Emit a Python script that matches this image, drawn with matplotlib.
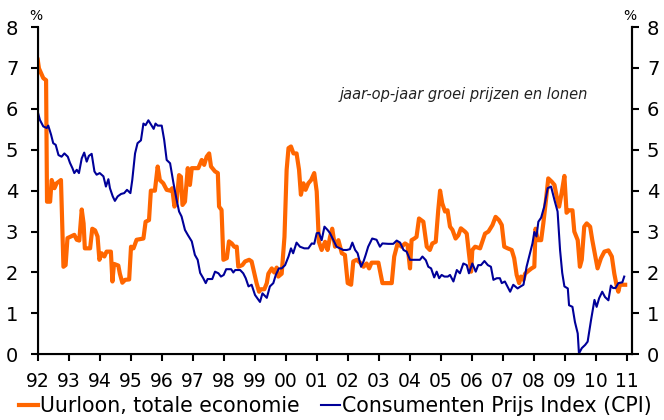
import matplotlib
matplotlib.use("Agg")
from matplotlib import pyplot as plt

loon_jaar = [1992.00, 1992.04, 1992.18, 1992.27, 1992.30, 1992.40, 1992.45, 1992.54, 1992.61, 1992.75,
             1992.83, 1992.90, 1992.96, 1993.07, 1993.18, 1993.26, 1993.34, 1993.42, 1993.48, 1993.52,
             1993.69, 1993.76, 1993.85, 1993.93, 1993.99, 1994.06, 1994.15, 1994.22, 1994.36, 1994.41,
             1994.46, 1994.60, 1994.65, 1994.73, 1994.82, 1994.95, 1995.01, 1995.09, 1995.19, 1995.41,
             1995.48, 1995.59, 1995.65, 1995.78, 1995.87, 1995.94, 1996.05, 1996.16, 1996.27, 1996.34,
             1996.41, 1996.48, 1996.56, 1996.62, 1996.67, 1996.75, 1996.84, 1996.91, 1996.97, 1997.18,
             1997.29, 1997.37, 1997.45, 1997.53, 1997.59, 1997.72, 1997.81, 1997.85, 1997.93, 1997.99,
             1998.10, 1998.17, 1998.26, 1998.34, 1998.42, 1998.47, 1998.60, 1998.69, 1998.82, 1998.90,
             1998.99, 1999.06, 1999.14, 1999.20, 1999.31, 1999.39, 1999.44, 1999.55, 1999.63, 1999.71,
             1999.76, 1999.87, 1999.96, 2000.03, 2000.09, 2000.17, 2000.25, 2000.35, 2000.43, 2000.49,
             2000.57, 2000.64, 2000.73, 2000.82, 2000.92, 2001.00, 2001.07, 2001.16, 2001.27, 2001.35,
             2001.43, 2001.50, 2001.59, 2001.70, 2001.81, 2001.91, 2002.00, 2002.11, 2002.18, 2002.29,
             2002.40, 2002.51, 2002.61, 2002.69, 2002.77, 2002.99, 2003.12, 2003.42, 2003.50, 2003.61,
             2003.74, 2003.85, 2003.93, 2004.01, 2004.06, 2004.15, 2004.22, 2004.30, 2004.44, 2004.55,
             2004.65, 2004.73, 2004.84, 2004.92, 2004.98, 2005.05, 2005.14, 2005.22, 2005.30, 2005.38,
             2005.48, 2005.57, 2005.65, 2005.78, 2005.84, 2005.91, 2005.98, 2006.02, 2006.11, 2006.27,
             2006.34, 2006.43, 2006.54, 2006.67, 2006.77, 2006.88, 2006.97, 2007.05, 2007.16, 2007.29,
             2007.37, 2007.45, 2007.53, 2007.59, 2007.67, 2007.72, 2007.83, 2007.93, 2008.02, 2008.06,
             2008.13, 2008.24, 2008.31, 2008.39, 2008.47, 2008.58, 2008.67, 2008.74, 2008.82, 2008.90,
             2008.99, 2009.06, 2009.14, 2009.25, 2009.31, 2009.42, 2009.49, 2009.55, 2009.63, 2009.71,
             2009.82, 2009.89, 2009.98, 2010.06, 2010.17, 2010.28, 2010.41, 2010.52, 2010.60, 2010.68,
             2010.73, 2010.78, 2010.95]
loon_waarde = [7.20, 6.99, 6.75, 6.70, 3.73, 3.73, 4.26, 4.06, 4.18, 4.26,
               2.14, 2.18, 2.84, 2.88, 2.92, 2.80, 2.78, 3.54, 3.20, 2.59,
               2.59, 3.07, 3.03, 2.88, 2.31, 2.47, 2.39, 2.51, 2.51, 1.78,
               2.21, 2.17, 1.97, 1.75, 1.82, 1.83, 2.63, 2.59, 2.80, 2.83,
               3.24, 3.28, 4.00, 4.00, 4.59, 4.26, 4.18, 4.02, 4.00, 4.06,
               3.61, 3.73, 4.38, 4.34, 3.65, 3.73, 4.55, 4.14, 4.55, 4.55,
               4.75, 4.63, 4.83, 4.91, 4.59, 4.47, 4.43, 3.61, 3.53, 2.31,
               2.35, 2.76, 2.71, 2.63, 2.63, 2.14, 2.18, 2.27, 2.31, 2.27,
               1.97, 1.74, 1.53, 1.59, 1.59, 1.74, 1.97, 2.10, 2.00, 2.12,
               1.90, 1.97, 2.87, 4.51, 5.04, 5.08, 4.91, 4.91, 4.51, 3.90,
               4.18, 4.02, 4.18, 4.26, 4.43, 3.98, 2.75, 2.55, 2.75, 2.55,
               2.87, 3.07, 2.63, 2.79, 2.47, 2.43, 1.74, 1.70, 2.27, 2.31,
               2.24, 2.14, 2.22, 2.10, 2.24, 2.24, 1.74, 1.74, 2.39, 2.71,
               2.63, 2.71, 2.67, 2.10, 2.79, 2.83, 2.87, 3.32, 3.24, 2.63,
               2.55, 2.71, 2.75, 3.52, 4.00, 3.69, 3.49, 3.52, 3.12, 3.04,
               2.83, 2.91, 3.08, 3.00, 2.95, 2.47, 2.02, 2.55, 2.63, 2.59,
               2.75, 2.95, 3.00, 3.16, 3.36, 3.28, 3.16, 2.63, 2.59, 2.55,
               2.35, 1.94, 1.74, 1.90, 1.82, 1.97, 2.04, 2.10, 2.14, 3.07,
               2.79, 2.79, 3.20, 3.73, 4.30, 4.22, 4.14, 3.86, 3.61, 3.94,
               4.36, 3.46, 3.52, 3.52, 3.00, 2.79, 2.14, 2.31, 3.12, 3.20,
               3.12, 2.79, 2.43, 2.10, 2.35, 2.51, 2.54, 2.39, 1.97, 1.66,
               1.53, 1.70, 1.70]

# CPI (jaar-op-jaar, %)
cpi_jaar = [1992.00, 1992.07, 1992.18, 1992.29, 1992.34, 1992.43, 1992.50, 1992.58, 1992.67, 1992.77,
            1992.86, 1992.97, 1993.04, 1993.12, 1993.18, 1993.26, 1993.33, 1993.42, 1993.50, 1993.58,
            1993.65, 1993.74, 1993.83, 1993.90, 1994.00, 1994.12, 1994.20, 1994.28, 1994.33, 1994.42,
            1994.49, 1994.58, 1994.69, 1994.79, 1994.88, 1994.99, 1995.05, 1995.14, 1995.22, 1995.33,
            1995.41, 1995.48, 1995.57, 1995.65, 1995.74, 1995.80, 1995.87, 1996.00, 1996.08, 1996.16,
            1996.27, 1996.38, 1996.48, 1996.56, 1996.64, 1996.75, 1996.84, 1996.97, 1997.07, 1997.16,
            1997.24, 1997.34, 1997.42, 1997.48, 1997.63, 1997.72, 1997.83, 1997.91, 1998.00, 1998.08,
            1998.24, 1998.31, 1998.37, 1998.53, 1998.63, 1998.71, 1998.80, 1998.90, 1999.01, 1999.17,
            1999.25, 1999.39, 1999.49, 1999.60, 1999.68, 1999.78, 1999.87, 1999.98, 2000.09, 2000.17,
            2000.24, 2000.35, 2000.46, 2000.60, 2000.73, 2000.84, 2000.92, 2001.00, 2001.07, 2001.16,
            2001.25, 2001.35, 2001.43, 2001.54, 2001.64, 2001.75, 2001.86, 2001.97, 2002.07, 2002.15,
            2002.24, 2002.32, 2002.43, 2002.51, 2002.58, 2002.66, 2002.79, 2002.93, 2003.04, 2003.12,
            2003.31, 2003.47, 2003.58, 2003.69, 2003.80, 2003.90, 2004.01, 2004.17, 2004.33, 2004.41,
            2004.52, 2004.60, 2004.69, 2004.79, 2004.87, 2004.95, 2005.03, 2005.12, 2005.23, 2005.30,
            2005.41, 2005.52, 2005.62, 2005.73, 2005.84, 2005.91, 2006.02, 2006.13, 2006.21, 2006.30,
            2006.41, 2006.52, 2006.62, 2006.70, 2006.81, 2006.91, 2006.97, 2007.07, 2007.24, 2007.34,
            2007.48, 2007.58, 2007.67, 2007.77, 2007.88, 2007.96, 2008.02, 2008.09, 2008.15, 2008.24,
            2008.34, 2008.45, 2008.56, 2008.67, 2008.77, 2008.85, 2008.92, 2008.99, 2009.10, 2009.14,
            2009.25, 2009.33, 2009.42, 2009.46, 2009.55, 2009.66, 2009.74, 2009.85, 2009.96, 2010.03,
            2010.11, 2010.21, 2010.30, 2010.41, 2010.49, 2010.56, 2010.64, 2010.73, 2010.86, 2010.92]
cpi_waarde = [5.93, 5.73, 5.57, 5.53, 5.59, 5.37, 5.16, 5.12, 4.87, 4.83,
              4.91, 4.83, 4.68, 4.55, 4.43, 4.51, 4.43, 4.79, 4.93, 4.71,
              4.85, 4.90, 4.47, 4.39, 4.43, 4.35, 4.10, 4.28, 4.06, 3.86,
              3.75, 3.86, 3.92, 3.94, 4.02, 3.94, 4.26, 4.91, 5.16, 5.23,
              5.64, 5.60, 5.72, 5.62, 5.51, 5.64, 5.59, 5.59, 5.24, 4.75,
              4.67, 4.18, 3.78, 3.49, 3.37, 3.04, 2.92, 2.76, 2.43, 2.31,
              1.99, 1.86, 1.74, 1.84, 1.84, 2.02, 1.98, 1.90, 1.94, 2.08,
              2.08, 2.00, 2.06, 2.06, 1.98, 1.86, 1.66, 1.70, 1.45, 1.28,
              1.49, 1.38, 1.66, 1.74, 1.94, 2.10, 2.10, 2.18, 2.39, 2.59,
              2.47, 2.73, 2.63, 2.59, 2.59, 2.71, 2.70, 2.96, 2.97, 2.79,
              3.12, 3.04, 2.96, 2.79, 2.63, 2.59, 2.55, 2.55, 2.57, 2.73,
              2.55, 2.47, 2.14, 2.27, 2.43, 2.63, 2.83, 2.80, 2.63, 2.71,
              2.70, 2.70, 2.78, 2.73, 2.55, 2.51, 2.31, 2.31, 2.31, 2.39,
              2.30, 2.14, 2.10, 1.88, 2.02, 1.86, 1.94, 1.90, 1.90, 1.94,
              1.78, 2.06, 1.98, 2.22, 2.18, 1.98, 2.22, 2.02, 2.18, 2.18,
              2.28, 2.18, 2.14, 1.82, 1.86, 1.86, 1.74, 1.78, 1.53, 1.70,
              1.61, 1.66, 1.70, 2.14, 2.47, 2.71, 2.99, 2.88, 3.24, 3.34,
              3.61, 4.06, 4.10, 3.77, 3.49, 2.55, 1.99, 1.66, 1.61, 1.20,
              1.16, 0.79, 0.51, 0.02, 0.15, 0.23, 0.31, 0.84, 1.33, 1.16,
              1.37, 1.53, 1.40, 1.32, 1.68, 1.62, 1.62, 1.74, 1.76, 1.90]

jaren = list(range(1992, 2012))
jaar_labels = [str(j)[2:] for j in jaren]
y_ticks = [0, 1, 2, 3, 4, 5, 6, 7, 8]

oranje = "#FF6600"
blauw = "#000099"

plt.rcParams['font.family'] = ['DejaVu Sans']

fig = plt.figure(figsize=(6.64, 4.2), dpi=100)
ax = fig.add_axes([0.0568, 0.1564, 0.8945, 0.7793])

ax.plot(loon_jaar, loon_waarde, color=oranje, lw=3.0, solid_joinstyle='round',
        label="Uurloon, totale economie")
ax.plot(cpi_jaar, cpi_waarde, color=blauw, lw=1.5, label="Consumenten Prijs Index (CPI)")

ax.set_xlim(1992, 2011.16)
ax.set_ylim(0, 8)
ax.set_xticks(jaren)
ax.set_xticklabels(jaar_labels)
ax.set_yticks(y_ticks)

ax.spines['top'].set_visible(False)
for s in ['left', 'bottom', 'right']:
    ax.spines[s].set_linewidth(1.5)
ax.tick_params(axis='both', width=1.5, length=5, color='black')
ax.tick_params(axis='x', labelsize=13.5, pad=8)
ax.tick_params(axis='y', labelsize=14, pad=9)

# rechter as met dezelfde schaal
ax2 = ax.twinx()
ax2.set_ylim(0, 8)
ax2.set_yticks(y_ticks)
ax2.spines['top'].set_visible(False)
ax2.spines['right'].set_linewidth(1.5)
ax2.tick_params(axis='y', labelsize=14, width=1.5, length=5, pad=6)

fig.text(0.0545, 0.962, "%", ha='center', va='center', fontsize=10)
fig.text(0.949, 0.962, "%", ha='center', va='center', fontsize=10)

ax.text(0.509, 0.795, "jaar-op-jaar groei prijzen en lonen", transform=ax.transAxes,
        fontsize=10.5, style='italic', color='#222222', ha='left', va='center')

fig.legend(loc='lower center', bbox_to_anchor=(0.505, -0.035), ncol=2, frameon=False,
           fontsize=14.8, handlelength=0.95, handletextpad=0.1, columnspacing=1.0)

fig.savefig("out.png", dpi=100)
